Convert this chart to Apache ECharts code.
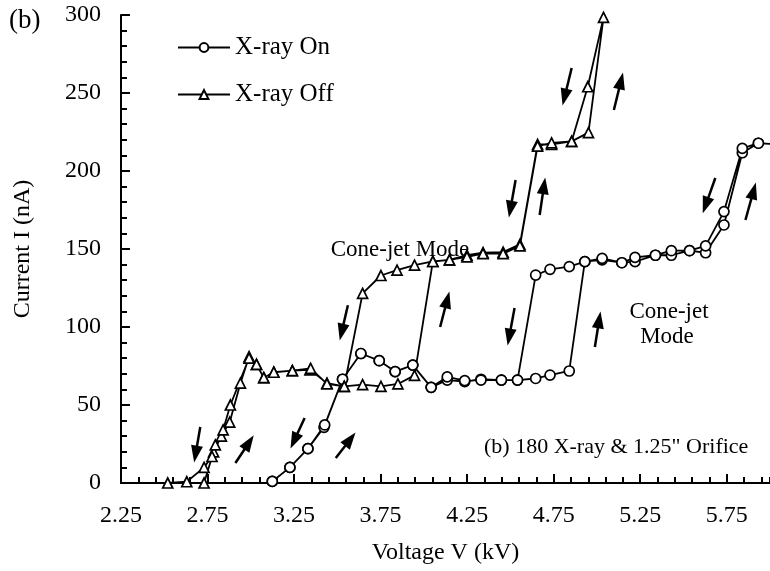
<!DOCTYPE html>
<html><head><meta charset="utf-8">
<script src="https://cdn.jsdelivr.net/npm/echarts@6/dist/echarts.min.js"></script>
<style>html,body{margin:0;padding:0;background:#fff}#c{width:770px;height:571px}</style>
</head><body><div id="c"></div>
<script>
// X-ray Off (triangles): sweep up then back down
const offV = [2.73,2.785,2.83,2.878,2.94,2.99,3.033,3.075,3.133,3.24,3.342,3.44,3.54,3.646,3.752,3.85,3.946,4.052,4.148,4.249,4.342,4.458,4.555,4.657,4.738,4.854,4.951,5.038,
  4.947,4.854,4.738,4.657,4.555,4.458,4.342,4.249,4.148,4.052,3.946,3.845,3.752,3.646,3.54,3.44,3.346,3.24,3.133,3.075,3.033,2.99,2.882,2.84,2.795,2.776,2.73,2.63,2.52];
const offI = [0,20,30,39,64,81,76,67.5,71,72,72.5,64,62,63,62,63.5,69,142,143,146,147.6,148,153,217,217,219,224.6,298.5,
  254,219,218,216,152,147,147,145,143,142,139.7,136.5,133,121.6,62,63.5,73.5,72,71,67.5,76,80,50,34,24.4,17,10,0.8,0];
// X-ray On (circles)
const onV = [3.124,3.226,3.33,3.423,3.53,3.636,3.742,3.834,3.936,4.042,4.135,4.236,4.33,4.448,4.541,4.646,4.729,4.84,4.93,5.03,5.144,5.22,5.338,5.43,5.535,5.628,5.734,5.84,5.933,6.05,
  5.933,5.84,5.734,5.628,5.535,5.43,5.338,5.22,5.144,5.03,4.93,4.84,4.729,4.646,4.541,4.448,4.33,4.236,4.135,4.042,3.936,3.834,3.742,3.636,3.53,3.427,3.33,3.226,3.124];
const onI = [1,10,22,35.7,66.5,83,78.4,71.4,75.6,61.3,66,65,66.5,66,66,67,69.2,71.8,141.9,143,141.2,141.9,146,146,148.9,147.6,165.4,211.7,217.8,217,
  217.8,214.5,174,152,148.9,148.9,146,144.6,141.2,144,141.9,138.7,137,133.3,66,66,66,65.6,68,61.3,75.6,71.4,78.4,83,66.5,37.2,22,10,1];
// Annotation arrows [v1, i1, v2, i2]
const arrows = [
  [2.708,35.9,2.681,18.5],[2.911,12.8,2.99,26],[3.311,41.7,3.25,27],[3.491,16,3.575,28],
  [3.561,114,3.525,96.7],[4.094,100,4.135,117.5],[4.524,112.2,4.493,93.5],[4.988,87.2,5.013,104.6],
  [4.53,194.2,4.5,175.5],[4.669,171.8,4.694,190.5],[4.854,266,4.813,247.3],[5.098,239.1,5.139,257.8],
  [5.684,195.5,5.628,178],[5.858,168.6,5.905,187.3]
];
const xRange = {min:2.25, max:6.0, step:0.5, minorStep:0.1};
const yRange = {min:0, max:300, step:50};

const FONT = 'Liberation Serif';
const pairs = (xs, ys) => xs.map((x, i) => [x, ys[i]]);
const chart = echarts.init(document.getElementById('c'), null, {renderer:'canvas'});
chart.setOption({
  animation:false,
  backgroundColor:'#fff',
  grid:{left:121, right:0, top:15, bottom:88, containLabel:false},
  legend:{
    orient:'vertical', left:177, top:35, padding:0, itemWidth:52, itemHeight:11, itemGap:22,
    textStyle:{fontFamily:FONT, fontSize:25, color:'#000'},
    data:['X-ray On','X-ray Off']
  },
  xAxis:[{
    type:'value', min:xRange.min, max:xRange.max, interval:xRange.step,
    name:'Voltage V (kV)', nameLocation:'middle', nameGap:58,
    nameTextStyle:{fontFamily:FONT, fontSize:24, color:'#000'},
    axisLine:{show:true, onZero:false, lineStyle:{color:'#000', width:2}},
    axisTick:{show:true, inside:true, length:9, lineStyle:{color:'#000', width:2}},
    axisLabel:{fontFamily:FONT, fontSize:24, color:'#000', margin:21, showMaxLabel:false,
      formatter:v => v.toFixed(2)},
    splitLine:{show:false}
  },{
    type:'value', position:'top', min:xRange.min, max:xRange.max,
    axisLine:{show:true, lineStyle:{color:'#000', width:2}},
    axisTick:{show:false}, axisLabel:{show:false}, splitLine:{show:false}
  },{
    type:'value', position:'bottom', min:xRange.min, max:xRange.max, interval:xRange.minorStep,
    axisLine:{show:false},
    axisTick:{show:true, inside:true, length:6, lineStyle:{color:'#000', width:2}},
    axisLabel:{show:false}, splitLine:{show:false}
  }],
  yAxis:{
    type:'value', min:yRange.min, max:yRange.max, interval:yRange.step,
    name:'Current I (nA)', nameLocation:'middle', nameGap:86,
    nameTextStyle:{fontFamily:FONT, fontSize:24, color:'#000'},
    axisLine:{show:true, lineStyle:{color:'#000', width:2}},
    axisTick:{show:true, inside:true, length:9, lineStyle:{color:'#000', width:2}},
    minorTick:{show:true, splitNumber:5, length:6, lineStyle:{color:'#000', width:2}},
    axisLabel:{fontFamily:FONT, fontSize:24, color:'#000', margin:20},
    splitLine:{show:false}
  },
  series:[
    {name:'X-ray On', type:'line', data:pairs(onV, onI), symbol:'circle', symbolSize:10,
     lineStyle:{color:'#000', width:1.8}, itemStyle:{color:'#fff', borderColor:'#000', borderWidth:1.7},
     clip:true, z:3},
    {name:'X-ray Off', type:'line', data:pairs(offV, offI), symbol:'triangle', symbolSize:10,
     lineStyle:{color:'#000', width:1.8}, itemStyle:{color:'#fff', borderColor:'#000', borderWidth:1.7},
     clip:true, z:3},
    {name:'arrows', type:'line', data:[], silent:true,
     markLine:{silent:true, symbol:['none','triangle'], symbolSize:[12,17], label:{show:false},
       lineStyle:{color:'#000', width:2.5, type:'solid'}, emphasis:{disabled:true},
       data:arrows.map(a => [{coord:[a[0],a[1]]},{coord:[a[2],a[3]]}])}}
  ],
  graphic:[
    {type:'text', x:9, y:21, style:{text:'(b)', fontFamily:FONT, fontSize:27, fill:'#000', align:'left', verticalAlign:'middle'}},
    {type:'text', x:400, y:250, style:{text:'Cone-jet Mode', fontFamily:FONT, fontSize:23, fill:'#000', align:'center', verticalAlign:'middle'}},
    {type:'text', x:669, y:312, style:{text:'Cone-jet', fontFamily:FONT, fontSize:23, fill:'#000', align:'center', verticalAlign:'middle'}},
    {type:'text', x:667, y:337, style:{text:'Mode', fontFamily:FONT, fontSize:23, fill:'#000', align:'center', verticalAlign:'middle'}},
    {type:'text', x:484, y:447, style:{text:'(b) 180 X-ray & 1.25" Orifice', fontFamily:FONT, fontSize:22, fill:'#000', align:'left', verticalAlign:'middle'}}
  ]
});
</script></body></html>
